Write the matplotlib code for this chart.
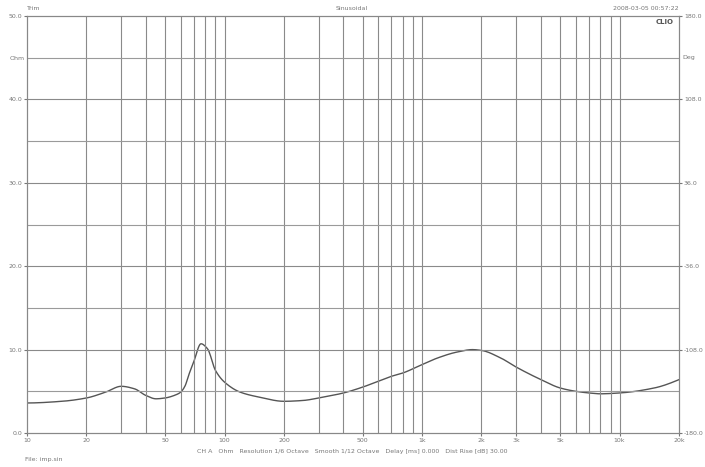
import numpy as np
import matplotlib
matplotlib.use("Agg")
import matplotlib.pyplot as plt

freq = [10, 15, 20, 25, 30, 35, 40, 45, 50, 57, 60, 63, 66, 70, 76, 82, 90, 100, 120, 150, 200, 250, 300, 400, 500, 600, 700, 800, 1000, 1200, 1500, 1800, 2000, 2500, 3000, 4000, 5000, 6000, 7000, 8000, 10000, 15000, 20000]
ohm  = [3.6, 3.8, 4.2, 4.9, 5.6, 5.3, 4.5, 4.1, 4.2, 4.6, 4.9, 5.6, 7.0, 8.6, 10.7, 10.1, 7.5, 6.1, 4.9, 4.3, 3.8, 3.9, 4.2, 4.8, 5.5, 6.2, 6.8, 7.2, 8.2, 9.0, 9.7, 10.0, 9.9, 9.0, 7.9, 6.4, 5.4, 5.0, 4.8, 4.7, 4.8, 5.4, 6.4]
xticks = [10, 20, 50, 100, 200, 500, 1000, 2000, 3000, 5000, 10000, 20000]
xticklabels = ["10", "20", "50", "100", "200", "500", "1k", "2k", "3k", "5k", "10k", "20k"]
yticks = [0, 10, 20, 30, 40, 50]
ylabels = ["0.0", "10.0", "20.0", "30.0", "40.0", "50.0"]
rlabels = ["-180.0", "-108.0", "-36.0", "36.0", "108.0", "180.0"]

fig = plt.figure(figsize=(7.05, 4.67), dpi=100)
ax = fig.add_axes([27/705, 1-433/467, (679-27)/705, (433-16)/467])
x = np.logspace(1, np.log10(20000), 800)
lx = np.log10(freq)
try:
    from scipy.interpolate import PchipInterpolator
    y = PchipInterpolator(lx, ohm)(np.log10(x))
except Exception:
    y = np.interp(np.log10(x), lx, ohm)
ax.plot(x, y, color="#555555", lw=1.0)
ax.set_xscale("log")
ax.set_xlim(10, 20000)
ax.set_ylim(0, 50)
grid = [20,30,40,50,60,70,80,90,100,200,300,400,500,600,700,800,900,1000,2000,3000,4000,5000,6000,7000,8000,9000,10000]
for g in grid:
    ax.axvline(g, color="#8a8a8a", lw=0.8)
for h in range(5, 50, 5):
    ax.axhline(h, color="#9a9a9a" if h % 10 else "#8a8a8a", lw=0.8)
ax.set_xticks(xticks)
ax.set_xticklabels(xticklabels)
ax.set_xticks([], minor=True)
ax.set_yticks(yticks)
ax.set_yticklabels(ylabels)
ax.tick_params(labelsize=4.5, colors="#777777", length=2, pad=1.5)
for s in ax.spines.values():
    s.set_color("#888888"); s.set_linewidth(0.8)
ax2 = ax.twinx()
ax2.set_ylim(-180, 180)
ax2.set_yticks([-180, -108, -36, 36, 108, 180])
ax2.set_yticklabels(rlabels)
ax2.tick_params(labelsize=4.5, colors="#777777", length=2, pad=1.5)
for s in ax2.spines.values():
    s.set_color("#888888"); s.set_linewidth(0.8)
c = "#777777"
fig.text(27/705, 1-8/467, "Trim", fontsize=4.5, color=c, ha="left", va="center")
fig.text(352/705, 1-8/467, "Sinusoidal", fontsize=4.5, color=c, ha="center", va="center")
fig.text(679/705, 1-8/467, "2008-03-05 00:57:22", fontsize=4.5, color=c, ha="right", va="center")
fig.text(25/705, 1-58/467, "Ohm", fontsize=4.5, color=c, ha="right", va="center")
fig.text(682/705, 1-58/467, "Deg", fontsize=4.5, color=c, ha="left", va="center")
fig.text(674/705, 1-22/467, "CLIO", fontsize=5, color="#555555", ha="right", va="center", weight="bold")
fig.text(352/705, 1-452/467, "CH A   Ohm   Resolution 1/6 Octave   Smooth 1/12 Octave   Delay [ms] 0.000   Dist Rise [dB] 30.00", fontsize=4.5, color=c, ha="center", va="center")
fig.text(25/705, 1-460/467, "File: imp.sin", fontsize=4.5, color=c, ha="left", va="center")
fig.savefig("out.png", dpi=100)
